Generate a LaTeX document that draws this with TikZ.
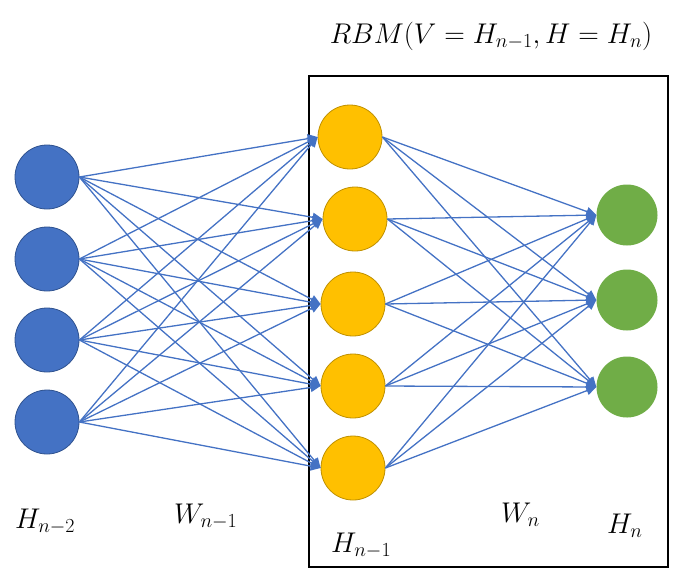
\RequirePackage{fix-cm}
\documentclass[tikz,border=0pt]{standalone}
\usetikzlibrary{arrows.meta}
\definecolor{bluefill}{HTML}{4472C4}
\definecolor{blueline}{HTML}{2F528F}
\definecolor{yellowfill}{HTML}{FFC000}
\definecolor{yellowline}{HTML}{BF9000}
\definecolor{greenfill}{HTML}{70AD47}
\tikzset{
  bnode/.style={circle,fill=bluefill,draw=blueline,line width=0.8pt,minimum size=64pt,inner sep=0pt},
  ynode/.style={circle,fill=yellowfill,draw=yellowline,line width=0.8pt,minimum size=64pt,inner sep=0pt},
  gnode/.style={circle,fill=greenfill,minimum size=61pt,inner sep=0pt},
  conn/.style={draw=bluefill,line width=1.3pt,-{Triangle[length=10pt,width=9pt]}},
  lbl/.style={inner sep=0pt,font=\fontsize{28.5}{32}\selectfont},
}
\begin{document}
\begin{tikzpicture}[x=1pt,y=-1pt]
\useasboundingbox (0,0) rectangle (676,574);
\draw[line width=1.3pt] (309,76) rectangle (668,567);
% blue
\node[bnode] (b1) at (47,177) {};
\node[bnode] (b2) at (47,259) {};
\node[bnode] (b3) at (47,340) {};
\node[bnode] (b4) at (47,422) {};
% yellow
\node[ynode] (y1) at (350,137) {};
\node[ynode] (y2) at (355,219) {};
\node[ynode] (y3) at (353,304) {};
\node[ynode] (y4) at (353,386) {};
\node[ynode] (y5) at (353,468) {};
% green
\node[gnode] (g1) at (627,215) {};
\node[gnode] (g2) at (627,300) {};
\node[gnode] (g3) at (627,387) {};
\foreach \i in {1,...,4}{
  \foreach \j in {1,...,5}{
    \draw[conn] (b\i.east) -- (y\j.west);
  }
}
\foreach \j in {1,...,5}{
  \foreach \k in {1,...,3}{
    \draw[conn] (y\j.east) -- (g\k.west);
  }
}
\node[lbl,anchor=base] (title) at (491,43) {$RBM(V=H_{n-1},H=H_n)$};
\node[lbl,anchor=base west] (l1) at (15,528) {$H_{n-2}$};
\node[lbl,anchor=base west] (l2) at (174,523) {$W_{n-1}$};
\node[lbl,anchor=base west] (l3) at (331,552) {$H_{n-1}$};
\node[lbl,anchor=base west] (l4) at (501,522) {$W_n$};
\node[lbl,anchor=base west] (l5) at (607,533) {$H_n$};
\end{tikzpicture}
\end{document}
